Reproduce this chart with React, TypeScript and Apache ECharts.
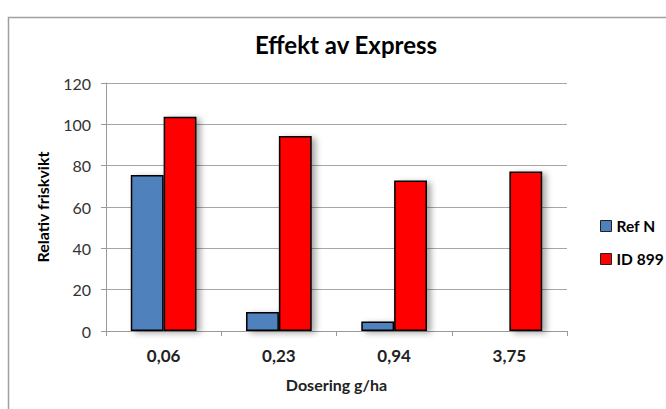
import React, { useEffect, useRef } from "react";
import * as echarts from "echarts";

const categories = ["0,06", "0,23", "0,94", "3,75"];
const refN = [75.5, 9.2, 4.6, 0.3];
const id899 = [103.7, 94.4, 72.8, 77.2];
const yTicks = { min: 0, max: 120, interval: 20 };

const FONT = "Lato, 'Open Sans', sans-serif";

export default function App() {
  const ref = useRef<HTMLDivElement>(null);
  useEffect(() => {
    if (!ref.current) return;
    const chart = echarts.init(ref.current, null, { renderer: "svg" });
    const barStyle = (color: string) => ({
      color,
      borderColor: "#000",
      borderWidth: 1.5,
      shadowColor: "rgba(0,0,0,0.35)",
      shadowBlur: 6,
      shadowOffsetX: 4,
      shadowOffsetY: 2,
    });
    chart.setOption({
      animation: false,
      backgroundColor: "#fff",
      textStyle: { fontFamily: FONT },
      graphic: [
        {
          type: "rect",
          shape: { x: 8.5, y: 17.5, width: 700, height: 500 },
          style: { fill: "none", stroke: "#a0a0a0", lineWidth: 1.5 },
          silent: true,
          z: -1,
        },
      ],
      title: {
        text: "Effekt av Express",
        left: 341,
        textAlign: "center",
        top: 27,
        textStyle: { fontFamily: FONT, fontSize: 24, fontWeight: "bold", color: "#000" },
      },
      legend: {
        orient: "vertical",
        left: 595,
        top: 213,
        itemWidth: 11,
        itemHeight: 11,
        itemGap: 17,
        icon: "rect",
        textStyle: { fontFamily: FONT, fontSize: 15.5, fontWeight: "bold", color: "#000" },
        data: [
          { name: "Ref N", itemStyle: { color: "#4F81BD", borderColor: "#222", borderWidth: 1 } },
          { name: "ID 899", itemStyle: { color: "#FF0000", borderColor: "#222", borderWidth: 1 } },
        ],
      },
      grid: { left: 106, right: 99, top: 83, bottom: 78 },
      xAxis: {
        type: "category",
        data: categories,
        name: "Dosering g/ha",
        nameLocation: "middle",
        nameGap: 45,
        nameTextStyle: { fontFamily: FONT, fontSize: 16, fontWeight: "bold", color: "#222" },
        axisLine: { lineStyle: { color: "#9a9a9a", width: 1 } },
        axisTick: { show: true, length: 5, lineStyle: { color: "#9a9a9a" } },
        axisLabel: { fontFamily: FONT, fontSize: 17, fontWeight: "bold", color: "#222", margin: 16 },
      },
      yAxis: {
        type: "value",
        min: yTicks.min,
        max: yTicks.max,
        interval: yTicks.interval,
        name: "Relativ friskvikt",
        nameLocation: "middle",
        nameGap: 56,
        nameTextStyle: { fontFamily: FONT, fontSize: 16, fontWeight: "bold", color: "#000" },
        axisLine: { show: true, lineStyle: { color: "#9a9a9a", width: 1 } },
        axisTick: { show: true, length: 5, lineStyle: { color: "#9a9a9a" } },
        axisLabel: { fontFamily: FONT, fontSize: 16, color: "#333", margin: 15 },
        splitLine: { lineStyle: { color: "#a6a6a6", width: 1 } },
      },
      series: [
        {
          name: "Ref N",
          type: "bar",
          data: refN,
          barGap: "0%",
          barCategoryGap: "43%",
          itemStyle: barStyle("#4F81BD"),
        },
        {
          name: "ID 899",
          type: "bar",
          data: id899,
          barGap: "0%",
          barCategoryGap: "43%",
          itemStyle: barStyle("#FF0000"),
        },
      ],
    });
    return () => chart.dispose();
  }, []);
  return (
    <div
      ref={ref}
      style={{ position: "absolute", left: 0, top: 0, width: 666, height: 409 }}
    />
  );
}
